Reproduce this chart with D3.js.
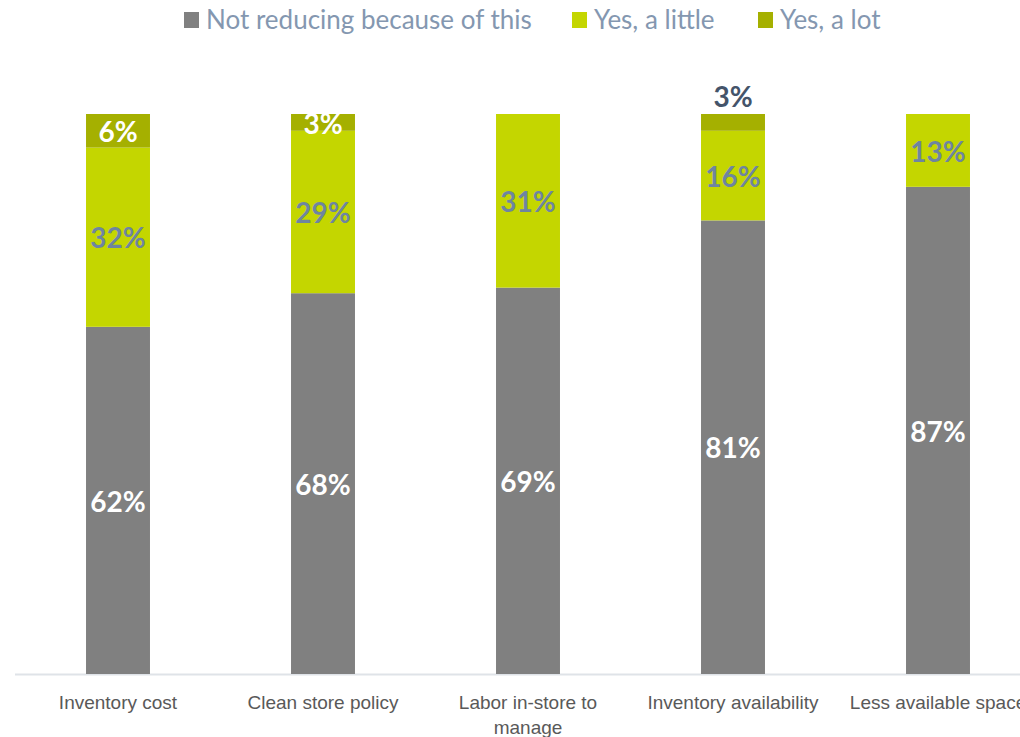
<!DOCTYPE html>
<html>
<head>
<meta charset="utf-8">
<script src="https://cdn.jsdelivr.net/npm/d3@7"></script>
<style>
  body { margin: 0; background: #fff; }
  svg { display: block; font-family: Lato, "Open Sans", sans-serif; }
</style>
</head>
<body>
<script>
const categories = ['Inventory cost', 'Clean store policy', 'Labor in-store to manage', 'Inventory availability', 'Less available space'];
const seriesNames = ['Not reducing because of this', 'Yes, a little', 'Yes, a lot'];
const notReducing = [62, 68, 69, 81, 87];
const yesLittle = [32, 29, 31, 16, 13];
const yesLot = [6, 3, 0, 3, 0];

const W = 1020, H = 737;
const colors = ['#808080', '#c4d600', '#a5b000'];
const labelColors = ['#ffffff', '#6e85a0', '#ffffff'];

const svg = d3.select('body').append('svg').attr('width', W).attr('height', H);

// band runs past the right edge, like the original export
const x = d3.scaleBand().domain(categories).range([15.5, 1040.5]).paddingInner(0.688).paddingOuter(0.344);
const y = d3.scaleLinear().domain([0, 100]).range([674, 114]);

const rows = categories.map((c, i) => ({ cat: c, 0: notReducing[i], 1: yesLittle[i], 2: yesLot[i] }));
const stack = d3.stack().keys([0, 1, 2]);
const layers = stack(rows);

svg.append('defs').append('clipPath').attr('id', 'plot')
  .append('rect').attr('x', 0).attr('y', 114).attr('width', W).attr('height', 560);

// axis line
svg.append('line').attr('x1', 15).attr('x2', W).attr('y1', 674.5).attr('y2', 674.5)
  .attr('stroke', '#dfe3e8').attr('stroke-width', 2);

const g = svg.append('g');
layers.forEach((layer, k) => {
  g.selectAll('rect.s' + k).data(layer).join('rect')
    .attr('class', 's' + k)
    .attr('x', d => x(d.data.cat))
    .attr('width', x.bandwidth())
    .attr('y', d => y(d[1]))
    .attr('height', d => y(d[0]) - y(d[1]))
    .attr('fill', colors[k]);
});

// value labels (clipped to plot area)
const lg = svg.append('g').attr('clip-path', 'url(#plot)');
layers.forEach((layer, k) => {
  layer.forEach(d => {
    const v = d[1] - d[0];
    if (!v) return;
    const cx = x(d.data.cat) + x.bandwidth() / 2;
    // small top segment of Inventory availability is labelled above the bar
    if (k === 2 && d.data.cat === 'Inventory availability') {
      svg.append('text').attr('x', cx).attr('y', y(d[1]) - 7)
        .attr('text-anchor', 'middle').attr('font-weight', 700).attr('font-size', 28)
        .attr('fill', '#44546a').text(v + '%');
      return;
    }
    lg.append('text').attr('x', cx).attr('y', (y(d[0]) + y(d[1])) / 2)
      .attr('dy', '0.4em')
      .attr('text-anchor', 'middle').attr('font-weight', 700).attr('font-size', 28)
      .attr('fill', labelColors[k]).text(v + '%');
  });
});

// category labels
const xAxis = svg.append('g').attr('transform', 'translate(0,674)')
  .call(d3.axisBottom(x).tickSize(0).tickPadding(0));
xAxis.select('.domain').remove();
xAxis.selectAll('text').remove();
xAxis.selectAll('.tick').each(function (c) {
  const t = d3.select(this).append('text').attr('text-anchor', 'middle')
    .attr('fill', '#595959').attr('font-size', 19).attr('y', 35);
  const words = c.split(' ');
  let line = [];
  let tspan = t.append('tspan').attr('x', 0).attr('dy', 0);
  words.forEach(w => {
    line.push(w);
    tspan.text(line.join(' '));
    if (tspan.node().getComputedTextLength() > 190 && line.length > 1) {
      line.pop();
      tspan.text(line.join(' '));
      line = [w];
      tspan = t.append('tspan').attr('x', 0).attr('dy', 25).text(w);
    }
  });
});

// legend
const legendX = [184, 572, 758];
const legend = svg.append('g');
seriesNames.forEach((s, i) => {
  const it = legend.append('g').attr('transform', `translate(${legendX[i]},0)`);
  it.append('rect').attr('x', 0).attr('y', 12).attr('width', 15).attr('height', 16).attr('fill', colors[i]);
  it.append('text').attr('x', 22).attr('y', 29).attr('font-size', 26)
    .attr('fill', '#8497b0').text(s);
});
</script>
</body>
</html>
